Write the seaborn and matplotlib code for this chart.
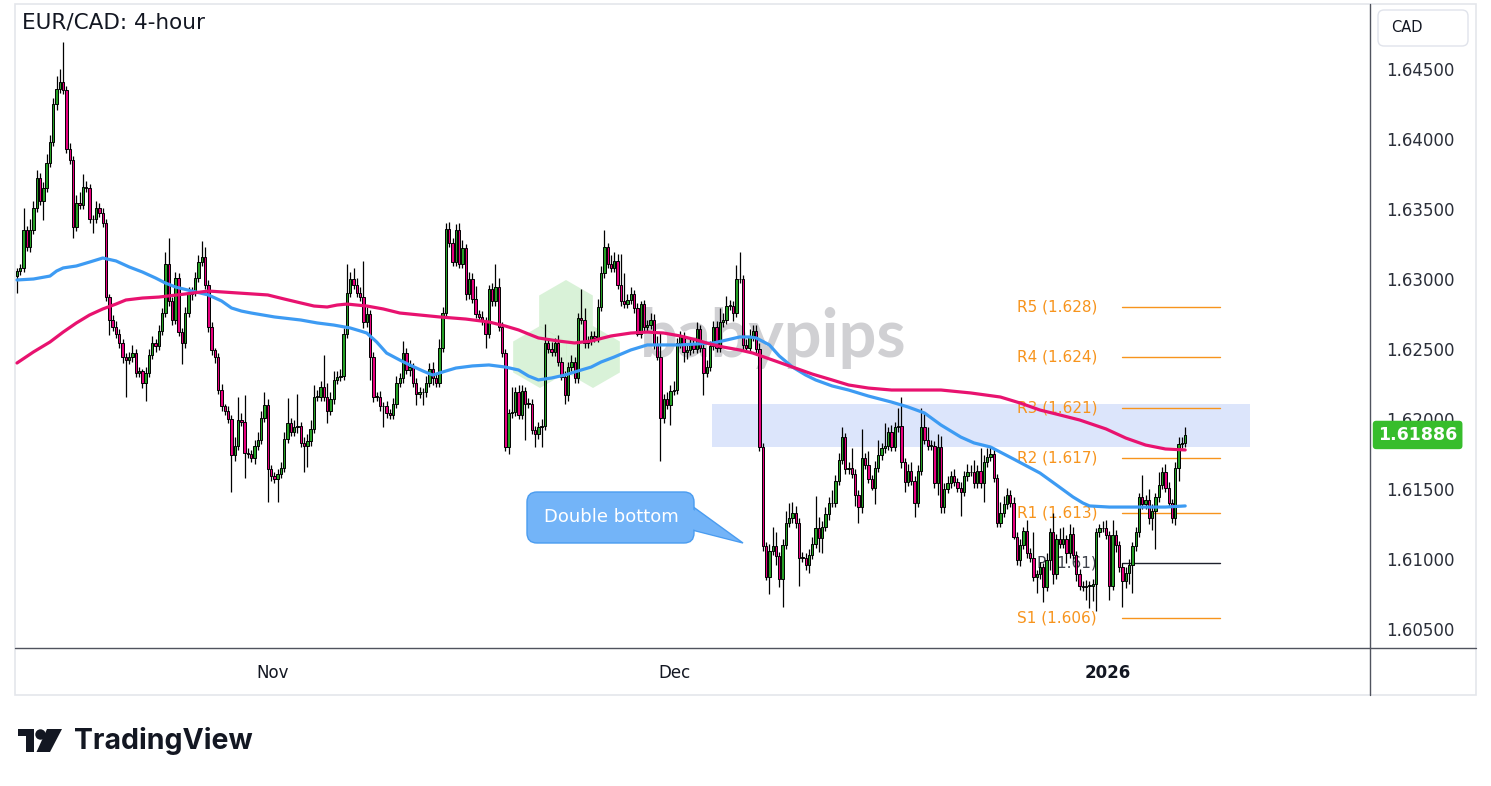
import numpy as np
import pandas as pd
import matplotlib
matplotlib.use("Agg")
import matplotlib.pyplot as plt
import seaborn as sns
from matplotlib.patches import Rectangle, FancyBboxPatch, Polygon, Circle, RegularPolygon

# EUR/CAD 4-hour closes (bar by bar), opens = previous close
first_open = 1.6302
closes = [
    1.6306, 1.6308, 1.6335, 1.6323, 1.6335, 1.6351, 1.6372, 1.6356, 1.6365, 1.6383,
    1.6398, 1.6425, 1.6436, 1.6441, 1.6435, 1.6393, 1.6385, 1.6337, 1.6354, 1.6353,
    1.6366, 1.6365, 1.6343, 1.6343, 1.6351, 1.6347, 1.6340, 1.6287, 1.6271, 1.6266,
    1.6261, 1.6254, 1.6244, 1.6242, 1.6244, 1.6247, 1.6233, 1.6234, 1.6226, 1.6233,
    1.6246, 1.6254, 1.6252, 1.6263, 1.6276, 1.6311, 1.6284, 1.6271, 1.6301, 1.6262,
    1.6254, 1.6276, 1.6289, 1.6291, 1.6301, 1.6312, 1.6316, 1.6296, 1.6266, 1.6249,
    1.6244, 1.6221, 1.6209, 1.6206, 1.6200, 1.6174, 1.6181, 1.6199, 1.6198, 1.6176,
    1.6175, 1.6172, 1.6181, 1.6185, 1.6201, 1.6210, 1.6164, 1.6159, 1.6157, 1.6161,
    1.6165, 1.6186, 1.6197, 1.6191, 1.6194, 1.6195, 1.6183, 1.6181, 1.6184, 1.6193,
    1.6216, 1.6216, 1.6223, 1.6216, 1.6206, 1.6214, 1.6228, 1.6230, 1.6231, 1.6261,
    1.6290, 1.6300, 1.6296, 1.6290, 1.6287, 1.6269, 1.6275, 1.6244, 1.6216, 1.6216,
    1.6209, 1.6209, 1.6204, 1.6203, 1.6211, 1.6226, 1.6229, 1.6247, 1.6235, 1.6237,
    1.6226, 1.6218, 1.6219, 1.6219, 1.6226, 1.6236, 1.6229, 1.6226, 1.6251, 1.6276,
    1.6336, 1.6326, 1.6312, 1.6335, 1.6311, 1.6322, 1.6289, 1.6300, 1.6286, 1.6275,
    1.6273, 1.6270, 1.6261, 1.6293, 1.6284, 1.6294, 1.6266, 1.6247, 1.6180, 1.6204,
    1.6205, 1.6219, 1.6203, 1.6220, 1.6211, 1.6211, 1.6192, 1.6189, 1.6194, 1.6195,
    1.6254, 1.6250, 1.6248, 1.6254, 1.6241, 1.6230, 1.6217, 1.6237, 1.6241, 1.6229,
    1.6272, 1.6271, 1.6254, 1.6256, 1.6259, 1.6258, 1.6280, 1.6304, 1.6323, 1.6311,
    1.6308, 1.6313, 1.6296, 1.6284, 1.6282, 1.6285, 1.6289, 1.6279, 1.6261, 1.6282,
    1.6266, 1.6267, 1.6271, 1.6253, 1.6244, 1.6201, 1.6214, 1.6210, 1.6220, 1.6221,
    1.6254, 1.6259, 1.6248, 1.6249, 1.6254, 1.6250, 1.6264, 1.6251, 1.6233, 1.6237,
    1.6252, 1.6266, 1.6251, 1.6269, 1.6271, 1.6281, 1.6281, 1.6276, 1.6300, 1.6300,
    1.6253, 1.6251, 1.6259, 1.6263, 1.6250, 1.6180, 1.6109, 1.6087, 1.6106, 1.6109,
    1.6102, 1.6086, 1.6110, 1.6126, 1.6129, 1.6133, 1.6126, 1.6101, 1.6101, 1.6096,
    1.6103, 1.6111, 1.6122, 1.6115, 1.6123, 1.6132, 1.6140, 1.6140, 1.6156, 1.6171,
    1.6187, 1.6164, 1.6165, 1.6161, 1.6146, 1.6137, 1.6172, 1.6167, 1.6157, 1.6151,
    1.6165, 1.6174, 1.6179, 1.6181, 1.6191, 1.6180, 1.6194, 1.6195, 1.6169, 1.6155,
    1.6163, 1.6156, 1.6140, 1.6163, 1.6194, 1.6185, 1.6181, 1.6181, 1.6154, 1.6180,
    1.6137, 1.6150, 1.6154, 1.6159, 1.6155, 1.6151, 1.6148, 1.6159, 1.6162, 1.6162,
    1.6154, 1.6163, 1.6154, 1.6169, 1.6173, 1.6175, 1.6158, 1.6126, 1.6133, 1.6139,
    1.6146, 1.6140, 1.6116, 1.6099, 1.6110, 1.6120, 1.6104, 1.6101, 1.6087, 1.6089,
    1.6094, 1.6080, 1.6099, 1.6119, 1.6089, 1.6114, 1.6111, 1.6114, 1.6104, 1.6118,
    1.6103, 1.6089, 1.6081, 1.6080, 1.6081, 1.6081, 1.6082, 1.6119, 1.6122, 1.6122,
    1.6117, 1.6081, 1.6117, 1.6110, 1.6094, 1.6084, 1.6090, 1.6096, 1.6109, 1.6119,
    1.6144, 1.6139, 1.6142, 1.6129, 1.6134, 1.6144, 1.6153, 1.6162, 1.6151, 1.6140,
    1.6129, 1.6165, 1.6182, 1.6183, 1.61886,
]

# wick lengths above / below the body, in pips
wick_up_pips = [
    2, 3, 16, 3, 8, 5, 6, 4, 4, 6,
    5, 4, 9, 9, 28, 3, 4, 3, 6, 8,
    9, 4, 3, 3, 5, 3, 4, 3, 2, 3,
    4, 3, 3, 3, 4, 6, 3, 3, 2, 4,
    4, 5, 3, 4, 3, 8, 18, 3, 4, 3,
    3, 4, 5, 3, 4, 5, 11, 7, 3, 3,
    2, 3, 4, 2, 3, 3, 6, 17, 5, 19,
    3, 3, 4, 6, 5, 9, 4, 3, 3, 3,
    4, 5, 18, 4, 5, 23, 3, 4, 5, 6,
    8, 5, 4, 23, 10, 5, 6, 4, 5, 4,
    21, 5, 8, 5, 4, 26, 5, 3, 4, 3,
    4, 3, 4, 3, 4, 5, 4, 9, 4, 5,
    3, 3, 4, 3, 5, 4, 5, 3, 6, 4,
    4, 5, 3, 4, 5, 6, 3, 5, 4, 9,
    3, 4, 3, 3, 4, 17, 7, 3, 3, 3,
    18, 4, 5, 4, 3, 4, 3, 3, 4, 5,
    14, 4, 5, 4, 6, 3, 4, 4, 5, 3,
    4, 21, 8, 3, 4, 4, 6, 5, 12, 3,
    6, 6, 5, 22, 20, 4, 5, 3, 4, 2,
    3, 4, 5, 4, 6, 18, 4, 5, 4, 6,
    4, 4, 3, 4, 3, 4, 5, 3, 4, 5,
    4, 4, 4, 10, 5, 7, 4, 3, 10, 19,
    3, 4, 5, 4, 4, 4, 3, 3, 5, 14,
    10, 3, 4, 8, 11, 8, 5, 3, 4, 3,
    4, 5, 23, 8, 4, 5, 4, 9, 4, 5,
    7, 3, 4, 14, 3, 3, 21, 4, 10, 3,
    5, 11, 4, 16, 3, 5, 4, 13, 21, 3,
    5, 6, 3, 4, 14, 11, 9, 4, 3, 9,
    8, 4, 5, 4, 5, 3, 4, 4, 6, 5,
    9, 4, 16, 5, 6, 5, 4, 3, 8, 6,
    5, 3, 4, 3, 4, 3, 8, 4, 18, 3,
    4, 3, 5, 3, 14, 4, 8, 9, 3, 7,
    5, 3, 4, 3, 4, 3, 4, 3, 3, 5,
    6, 3, 11, 4, 3, 3, 4, 4, 3, 4,
    3, 16, 4, 8, 5, 3, 9, 4, 6, 4,
    3, 4, 5, 4, 6,
]
wick_dn_pips = [
    12, 3, 3, 3, 4, 3, 3, 3, 14, 3,
    3, 3, 4, 3, 3, 3, 3, 8, 3, 3,
    3, 3, 3, 10, 3, 3, 3, 3, 11, 3,
    3, 3, 4, 26, 3, 3, 3, 3, 4, 13,
    3, 3, 4, 3, 3, 3, 3, 4, 3, 3,
    15, 3, 3, 4, 3, 3, 3, 3, 4, 3,
    4, 3, 3, 3, 3, 26, 4, 3, 3, 18,
    3, 3, 4, 3, 3, 3, 23, 3, 3, 16,
    3, 3, 3, 3, 3, 4, 3, 19, 15, 3,
    3, 3, 3, 3, 9, 3, 3, 3, 3, 3,
    3, 3, 3, 3, 3, 4, 3, 16, 4, 3,
    3, 15, 3, 3, 3, 3, 3, 3, 3, 4,
    3, 8, 3, 9, 3, 3, 5, 3, 3, 3,
    3, 3, 3, 3, 3, 3, 4, 3, 3, 3,
    3, 3, 10, 3, 3, 3, 3, 3, 3, 5,
    3, 3, 3, 3, 26, 3, 3, 9, 3, 14,
    3, 3, 3, 3, 3, 2, 6, 4, 3, 3,
    3, 3, 3, 3, 3, 3, 3, 3, 3, 3,
    3, 3, 3, 3, 3, 3, 3, 3, 2, 3,
    3, 3, 3, 3, 2, 31, 4, 3, 14, 3,
    3, 3, 7, 5, 3, 3, 3, 3, 16, 3,
    3, 3, 3, 3, 3, 3, 3, 6, 3, 3,
    4, 3, 3, 3, 3, 3, 3, 2, 12, 3,
    6, 6, 20, 3, 3, 3, 4, 20, 3, 4,
    6, 3, 3, 10, 11, 3, 4, 3, 3, 3,
    3, 3, 3, 3, 8, 11, 4, 3, 3, 2,
    12, 3, 3, 3, 3, 3, 3, 3, 4, 7,
    3, 3, 10, 3, 3, 3, 3, 3, 3, 8,
    4, 4, 3, 3, 3, 3, 17, 3, 3, 3,
    3, 3, 3, 13, 3, 3, 3, 3, 3, 3,
    3, 3, 2, 3, 4, 3, 3, 3, 3, 11,
    3, 11, 3, 7, 7, 3, 3, 3, 7, 3,
    3, 5, 3, 3, 9, 16, 11, 19, 3, 3,
    3, 10, 3, 5, 3, 18, 5, 8, 20, 3,
    3, 3, 3, 4, 8, 27, 3, 3, 3, 3,
    3, 5, 9, 3, 3,
]

# moving averages (bar index, price)
ma_fast_idx = [0, 5, 10, 12, 14, 16, 18, 22, 26, 30, 34, 38, 42, 45, 48, 53, 58, 62, 65, 68,
               71, 78, 86, 91, 96, 101, 104, 106, 109, 112, 116, 119, 123, 126, 130, 133, 138, 143,
               148, 152, 155, 158, 162, 166, 170, 174, 177, 181, 186, 191, 196, 201, 206, 211, 215,
               219, 222, 224, 228, 231, 235, 239, 242, 247, 252, 258, 265, 270, 275, 280, 286, 290,
               295, 302, 310, 315, 320, 323, 325, 331, 340, 348, 354]
ma_fast = [1.62993, 1.63000, 1.63021, 1.63057, 1.63079, 1.63086, 1.63093, 1.63121, 1.63150, 1.63129,
           1.63086, 1.63050, 1.63007, 1.62971, 1.62943, 1.62914, 1.62886, 1.62843, 1.62793, 1.62771,
           1.62757, 1.62729, 1.62707, 1.62686, 1.62671, 1.62650, 1.62629, 1.62614, 1.62550, 1.62471,
           1.62421, 1.62386, 1.62343, 1.62314, 1.62343, 1.62364, 1.62379, 1.62386, 1.62371, 1.62350,
           1.62307, 1.62279, 1.62293, 1.62314, 1.62343, 1.62371, 1.62407, 1.62443, 1.62493, 1.62529,
           1.62529, 1.62529, 1.62536, 1.62543, 1.62564, 1.62586, 1.62586, 1.62579, 1.62529, 1.62450,
           1.62371, 1.62314, 1.62279, 1.62236, 1.62207, 1.62164, 1.62121, 1.62086, 1.62043, 1.61957,
           1.61871, 1.61829, 1.61800, 1.61714, 1.61614, 1.61529, 1.61443, 1.61400, 1.61379, 1.61371,
           1.61371, 1.61371, 1.61379]
ma_slow_idx = [0, 5, 10, 14, 18, 22, 26, 30, 33, 38, 43, 51, 58, 67, 76, 81, 86, 90, 94, 97, 100,
               103, 106, 111, 116, 122, 128, 136, 143, 148, 152, 155, 158, 164, 169, 174, 180, 186,
               191, 196, 201, 206, 210, 214, 219, 223, 229, 235, 241, 247, 252, 258, 265, 272, 280,
               289, 298, 304, 310, 316, 322, 330, 336, 342, 348, 354]
ma_slow = [1.62400, 1.62479, 1.62550, 1.62621, 1.62686, 1.62743, 1.62786, 1.62821, 1.62850, 1.62864,
           1.62871, 1.62893, 1.62914, 1.62900, 1.62886, 1.62857, 1.62829, 1.62807, 1.62800, 1.62814,
           1.62821, 1.62814, 1.62807, 1.62786, 1.62757, 1.62743, 1.62729, 1.62714, 1.62693, 1.62664,
           1.62636, 1.62607, 1.62579, 1.62557, 1.62543, 1.62557, 1.62593, 1.62614, 1.62621, 1.62614,
           1.62593, 1.62564, 1.62536, 1.62514, 1.62493, 1.62471, 1.62421, 1.62371, 1.62321, 1.62279,
           1.62243, 1.62221, 1.62207, 1.62207, 1.62207, 1.62186, 1.62157, 1.62114, 1.62064, 1.62029,
           1.61993, 1.61929, 1.61864, 1.61814, 1.61786, 1.61779]

pivot_names = ["R5", "R4", "R3", "R2", "R1", "P", "S1"]
pivot_levels = [1.6280, 1.6244, 1.6208, 1.6172, 1.6133, 1.6097, 1.6058]
pivot_labels = ["R5 (1.628)", "R4 (1.624)", "R3 (1.621)", "R2 (1.617)", "R1 (1.613)", "P (1.61)", "S1 (1.606)"]

zone_low, zone_high = 1.6180, 1.6211
month_pos = [77.6, 199.1, 330.6]
month_labels = ["Nov", "Dec", "2026"]
price_ticks = [1.605, 1.610, 1.615, 1.620, 1.625, 1.630, 1.635, 1.640, 1.645]

GREEN = "#25a025"
PINK = "#e6007e"
MA_BLUE = "#3d9bf3"
MA_PINK = "#e8126f"
ORANGE = "#f7941d"
TXT = "#131722"

sns.set_style("white")
plt.rcParams["font.family"] = ["DejaVu Sans"]

W, H = 1491, 786
fig = plt.figure(figsize=(W / 100, H / 100), dpi=100, facecolor="white")

# pixel-space layers for decoration
bg = fig.add_axes([0, 0, 1, 1], zorder=0)
bg.set_xlim(0, W); bg.set_ylim(H, 0); bg.set_axis_off()

ax = fig.add_axes([15 / W, (H - 648) / H, (1370 - 15) / W, (648 - 4) / H], zorder=1)
ax.patch.set_alpha(0)

fg = fig.add_axes([0, 0, 1, 1], zorder=2)
fg.set_xlim(0, W); fg.set_ylim(H, 0); fg.set_axis_off()

# ---- data
df = pd.DataFrame({"close": closes, "wu": wick_up_pips, "wd": wick_dn_pips})
df["idx"] = np.arange(len(df))
df["open"] = [first_open] + closes[:-1]
df["top"] = df[["open", "close"]].max(axis=1)
df["bot"] = df[["open", "close"]].min(axis=1)
df["high"] = df["top"] + df["wu"] * 1e-4
df["low"] = df["bot"] - df["wd"] * 1e-4
df["up"] = df["close"] >= df["open"]

# zone
ax.add_patch(Rectangle((210.6, zone_low), 373.6 - 210.6, zone_high - zone_low,
                       facecolor="#dce5fb", edgecolor="none", zorder=0.5))

# pivots
for name, lvl, lab in zip(pivot_names, pivot_levels, pivot_labels):
    c = "#1e222d" if name == "P" else ORANGE
    ax.plot([334.8, 364.5], [lvl, lvl], color=c, lw=1.0, zorder=2)
    ax.text(327.3, lvl, lab, color=c, fontsize=11, ha="right", va="center",
            alpha=0.85 if name == "P" else 1, zorder=2)

# candles
ax.vlines(df["idx"], df["low"], df["high"], color="black", lw=0.9, zorder=3)
ax.bar(df["idx"], np.maximum(df["top"] - df["bot"], 0.00002), bottom=df["bot"], width=0.72,
       color=np.where(df["up"], GREEN, PINK), edgecolor="black", linewidth=0.7, zorder=4)

# moving averages
sns.lineplot(x=ma_fast_idx, y=ma_fast, ax=ax, color=MA_BLUE, lw=2.3, estimator=None, zorder=5,
             solid_joinstyle="round", solid_capstyle="round")
sns.lineplot(x=ma_slow_idx, y=ma_slow, ax=ax, color=MA_PINK, lw=2.3, estimator=None, zorder=5,
             solid_joinstyle="round", solid_capstyle="round")

ax.set_xlim(-0.6, 410.0)
ax.set_ylim(1.645 - (648 - 69) / 14000, 1.645 + 65 / 14000)
for s in ax.spines.values():
    s.set_visible(False)
ax.grid(False)
ax.set_xlabel(""); ax.set_ylabel("")

ax.set_xticks(month_pos, month_labels)
ax.tick_params(axis="x", length=0, pad=11.5, labelsize=12, labelcolor=TXT)
ax.get_xticklabels()[2].set_fontweight("bold")
ax.yaxis.tick_right()
ax.set_yticks(price_ticks, [f"{v:.5f}" for v in price_ticks])
ax.tick_params(axis="y", length=0, pad=11.5, labelsize=12, labelcolor="#2a2e39")

# last price tag
ax.annotate(f"{closes[-1]:.5f}", xy=(1, closes[-1]), xycoords=("axes fraction", "data"),
            xytext=(8, 0), textcoords="offset pixels", ha="left", va="center",
            color="white", fontsize=12.5, fontweight="bold", annotation_clip=False, zorder=6,
            bbox=dict(boxstyle="round,pad=0.3,rounding_size=0.2", fc="#37bd2c", ec="none"))

# ---- frame and axis lines
bg.add_patch(Rectangle((15, 4), 1476 - 15, 695 - 4, fill=False, ec="#e4e6eb", lw=1.2))
bg.plot([15, 1476], [648, 648], color="#50535e", lw=1.0)
bg.plot([1370, 1370], [4, 695], color="#50535e", lw=1.0)

# currency box
bg.add_patch(FancyBboxPatch((1378, 10), 90, 36, boxstyle="round,pad=0,rounding_size=6",
                            fc="white", ec="#e0e3eb", lw=1))
bg.text(1391, 28, "CAD", fontsize=10.5, va="center", ha="left", color=TXT)

# title
bg.text(22, 22, "EUR/CAD: 4-hour", fontsize=15.5, va="center", ha="left", color=TXT)

# babypips watermark
for cx, cy in [(566, 311), (540, 357), (593, 357)]:
    bg.add_patch(RegularPolygon((cx, cy), numVertices=6, radius=31, orientation=0,
                                fc="#cdeecb", ec="none", alpha=0.75))
bg.text(640, 357, "babypips", fontsize=48, fontweight="bold", family=["Lato", "DejaVu Sans"],
        color="#d0d0d3", va="baseline", ha="left")

# double bottom callout
fg.add_patch(Polygon([(692, 506), (743, 543), (692, 530)], closed=True,
                     fc="#73b4f8", ec="#4a9cf0", lw=1.0))
fg.add_patch(FancyBboxPatch((527, 492), 167, 51, boxstyle="round,pad=0,rounding_size=10",
                            fc="#73b4f8", ec="#4a9cf0", lw=1.0))
fg.add_patch(Polygon([(690, 507.5), (738, 541), (690, 528.5)], closed=True,
                     fc="#73b4f8", ec="none"))
fg.text(611, 517, "Double bottom", color="white", fontsize=13, ha="center", va="center")

# TradingView logo
bg.add_patch(Polygon([(18, 729), (33.5, 729), (33.5, 752), (26, 752), (26, 736), (18, 736)],
                     closed=True, fc="#131722", ec="none"))
bg.add_patch(Circle((40.5, 734.5), 5.2, fc="#131722", ec="none"))
bg.add_patch(Polygon([(47, 729), (62, 729), (50, 752), (36.5, 752)], closed=True,
                     fc="#131722", ec="none"))
bg.text(74, 741, "TradingView", fontsize=20.5, fontweight="bold", family=["Inter", "DejaVu Sans"],
        color="#131722", va="center", ha="left")

fig.savefig("out.png", dpi=100, facecolor="white")
